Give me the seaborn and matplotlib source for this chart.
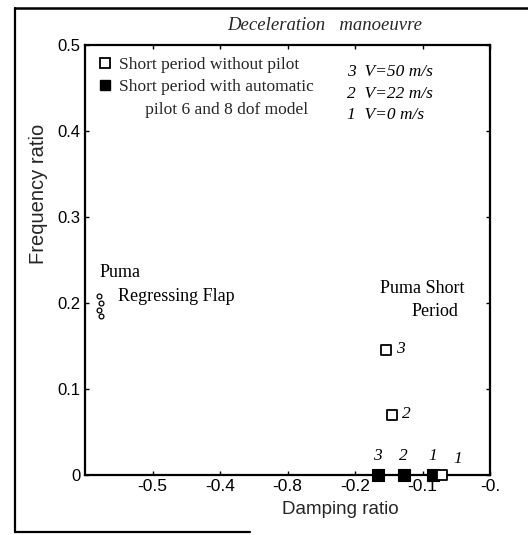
import numpy as np
import pandas as pd
import matplotlib
matplotlib.use("Agg")
import matplotlib.pyplot as plt
import seaborn as sns
from matplotlib.lines import Line2D

sns.set_theme(style="white")
plt.rcParams['font.family'] = ['Liberation Sans', 'DejaVu Sans']

# ---- data ----
speed_ids = ["1", "2", "3"]
damping_no_pilot = [-0.071, -0.145, -0.154]
freq_no_pilot = [0.0, 0.07, 0.145]
damping_autopilot = [-0.084, -0.127, -0.166]
freq_autopilot = [0.0, 0.0, 0.0]
flap_damping = [-0.580, -0.577, -0.579, -0.576]
flap_freq = [0.208, 0.200, 0.192, 0.185]
x_ticks = [-0.5, -0.4, -0.3, -0.2, -0.1, 0.0]
x_tick_labels = ["-0.5", "-0.4", "-0.8", "-0.2", "-0.1", "-0."]
y_ticks = [0.0, 0.1, 0.2, 0.3, 0.4, 0.5]
y_tick_labels = ["0", "0.1", "0.2", "0.3", "0.4", "0.5"]
speed_legend = ["3  V=50 m/s", "2  V=22 m/s", "1  V=0 m/s"]
legend_labels = ["Short period without pilot",
                 "Short period with automatic",
                 "      pilot 6 and 8 dof model"]

df_open = pd.DataFrame({"damping": damping_no_pilot, "freq": freq_no_pilot, "id": speed_ids})
df_fill = pd.DataFrame({"damping": damping_autopilot, "freq": freq_autopilot, "id": speed_ids})
df_flap = pd.DataFrame({"damping": flap_damping, "freq": flap_freq})

W, H = 528, 535
fig = plt.figure(figsize=(W / 100, H / 100), dpi=100)
ax = fig.add_axes([85 / W, 1 - 475 / H, 405 / W, 430 / H])

serif = "Liberation Serif"

sns.scatterplot(data=df_fill, x="damping", y="freq", marker="s", s=70,
                color="black", edgecolor="black", linewidth=0.8, ax=ax, zorder=4, clip_on=False)
sns.scatterplot(data=df_open, x="damping", y="freq", marker="s", s=42,
                facecolor="white", edgecolor="black", linewidth=1.3, ax=ax, zorder=5, clip_on=False)
sns.scatterplot(data=df_flap, x="damping", y="freq", marker="o", s=12,
                facecolor="white", edgecolor="black", linewidth=0.9, ax=ax, zorder=5)

ax.set_xlim(-0.6, 0.0)
ax.set_ylim(0.0, 0.5)
ax.set_xticks(x_ticks)
ax.set_xticklabels(x_tick_labels)
ax.set_yticks(y_ticks)
ax.set_yticklabels(y_tick_labels)
ax.set_xlabel("")
ax.set_ylabel("")
for s in ax.spines.values():
    s.set_color("black")
    s.set_linewidth(1.6)
ax.tick_params(axis="both", which="both", direction="in", length=3, width=1,
               top=True, right=True, bottom=True, left=True, colors="black")
ax.tick_params(axis="x", pad=3, labelsize=12.5)
ax.tick_params(axis="y", pad=3, labelsize=12)

# point labels
ita = dict(family=serif, style="italic", fontsize=12.5, color="black")
for _, r in df_open.iterrows():
    if r["freq"] > 0:
        ax.annotate(r["id"], (r["damping"], r["freq"]), xytext=(10, 1),
                    textcoords="offset pixels", ha="left", va="center", **ita)
    else:
        ax.annotate(r["id"], (r["damping"], r["freq"]), xytext=(11, 16),
                    textcoords="offset pixels", ha="left", va="center", **ita)
for _, r in df_fill.iterrows():
    ax.annotate(r["id"], (r["damping"], r["freq"]), xytext=(-1, 19),
                textcoords="offset pixels", ha="center", va="center", **ita)

# annotations
ser = dict(family=serif, fontsize=13, color="black")
ax.text(-0.578, 0.236, "Puma", ha="left", va="center", **ser)
ax.text(-0.551, 0.207, "Regressing Flap", ha="left", va="center", **ser)
ax.text(-0.163, 0.217, "Puma Short", ha="left", va="center", **ser)
ax.text(-0.117, 0.190, "Period", ha="left", va="center", **ser)
for lbl, yy in zip(speed_legend, [0.469, 0.443, 0.419]):
    ax.text(-0.212, yy, lbl, ha="left", va="center", **ita)

# legend
h_open = Line2D([], [], marker="s", linestyle="none", markersize=7,
                markerfacecolor="white", markeredgecolor="black", markeredgewidth=1.3)
h_fill = Line2D([], [], marker="s", linestyle="none", markersize=7.5,
                markerfacecolor="black", markeredgecolor="black")
h_none = Line2D([], [], linestyle="none", marker=None)
leg = ax.legend([h_open, h_fill, h_none], legend_labels, loc="upper left",
                bbox_to_anchor=(0.01, 0.988), frameon=False, handletextpad=0.35,
                handlelength=1.0, borderaxespad=0, labelspacing=0.35,
                prop=dict(family=serif, size=12.5))

# figure texts
fig.text(325 / W, 1 - 25 / H, "Deceleration   manoeuvre", ha="center", va="center",
         family=serif, style="italic", fontsize=13.5)
fig.text(340 / W, 1 - 509 / H, "Damping ratio", ha="center", va="center", fontsize=13.5)
fig.text(38 / W, 1 - 194 / H, "Frequency ratio", ha="center", va="center",
         rotation=90, fontsize=14.5)

# outer frame
fig.add_artist(Line2D([15 / W, 15 / W], [1 - 8 / H, 1 - 532 / H], color="black", lw=1.6,
                      transform=fig.transFigure))
fig.add_artist(Line2D([15 / W, 1.0], [1 - 8 / H, 1 - 8 / H], color="black", lw=1.8,
                      transform=fig.transFigure))
fig.add_artist(Line2D([15 / W, 250 / W], [1 - 532 / H, 1 - 532 / H], color="black", lw=1.6,
                      transform=fig.transFigure))

fig.savefig("out.png", dpi=100, facecolor="white")
